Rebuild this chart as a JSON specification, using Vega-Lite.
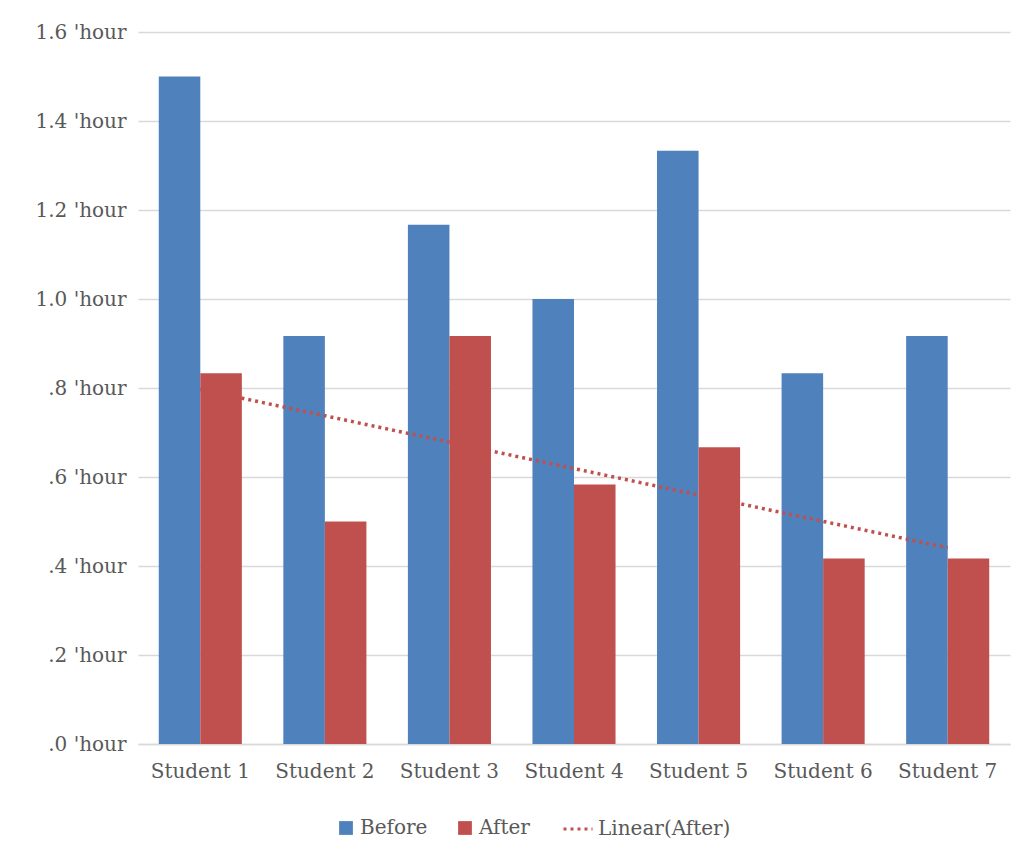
{
  "$schema": "https://vega.github.io/schema/vega-lite/v6.json",
  "width": 872,
  "height": 712,
  "autosize": {"type": "none"},
  "padding": {"left": 138, "top": 32, "right": 14, "bottom": 119},
  "background": "white",
  "config": {
    "view": {"stroke": null},
    "font": "DejaVu Serif",
    "axis": {"labelFont": "DejaVu Serif", "labelColor": "#595959", "labelFontSize": 20},
    "legend": {"labelFont": "DejaVu Serif", "labelColor": "#595959", "labelFontSize": 20}
  },
  "datasets": {
    "bars": [
      {"student": "Student 1", "series": "Before", "value": 1.5},
      {"student": "Student 1", "series": "After", "value": 0.833},
      {"student": "Student 2", "series": "Before", "value": 0.917},
      {"student": "Student 2", "series": "After", "value": 0.5},
      {"student": "Student 3", "series": "Before", "value": 1.167},
      {"student": "Student 3", "series": "After", "value": 0.917},
      {"student": "Student 4", "series": "Before", "value": 1.0},
      {"student": "Student 4", "series": "After", "value": 0.583},
      {"student": "Student 5", "series": "Before", "value": 1.333},
      {"student": "Student 5", "series": "After", "value": 0.667},
      {"student": "Student 6", "series": "Before", "value": 0.833},
      {"student": "Student 6", "series": "After", "value": 0.417},
      {"student": "Student 7", "series": "Before", "value": 0.917},
      {"student": "Student 7", "series": "After", "value": 0.417}
    ],
    "trend": [
      {"student": "Student 1", "value": 0.797},
      {"student": "Student 7", "value": 0.441}
    ]
  },
  "encoding": {
    "x": {
      "field": "student", "type": "nominal",
      "scale": {"paddingInner": 0.333, "paddingOuter": 0.1667},
      "axis": {"title": null, "labelAngle": 0, "ticks": false, "domainColor": "#D9D9D9", "domainWidth": 1.5, "labelPadding": 17, "grid": false}
    },
    "y": {
      "field": "value", "type": "quantitative",
      "scale": {"domain": [0, 1.6], "nice": false},
      "axis": {
        "title": null, "values": [0, 0.2, 0.4, 0.6, 0.8, 1.0, 1.2, 1.4, 1.6],
        "labelExpr": "replace(format(datum.value, '.1f'), '0.', '.') + \" 'hour\"",
        "labelOverlap": false,
        "ticks": false, "domain": false, "labelPadding": 12,
        "gridColor": "#D9D9D9", "gridWidth": 1.5
      }
    }
  },
  "layer": [
    {
      "data": {"name": "bars"},
      "mark": {"type": "bar"},
      "encoding": {
        "xOffset": {"field": "series", "type": "nominal", "scale": {"domain": ["Before", "After"], "paddingInner": 0, "paddingOuter": 0}},
        "color": {
          "field": "series", "type": "nominal",
          "scale": {"domain": ["Before", "After"], "range": ["#4F81BD", "#C0504D"]},
          "legend": {
            "title": null, "orient": "none", "direction": "horizontal",
            "legendX": 198, "legendY": 786,
            "symbolType": "square", "symbolSize": 190, "symbolStrokeWidth": 0,
            "columnPadding": 27, "labelOffset": 4
          }
        }
      }
    },
    {
      "data": {"name": "trend"},
      "mark": {"type": "line", "color": "#C0504D", "strokeWidth": 3.5, "strokeDash": [3.2, 4.6]},
      "encoding": {
        "strokeDash": {
          "datum": "Linear(After)",
          "scale": {"range": [[3, 4]]},
          "legend": {
            "title": null, "orient": "none", "direction": "horizontal",
            "legendX": 424, "legendY": 781,
            "symbolType": "stroke", "symbolStrokeColor": "#C0504D", "symbolStrokeWidth": 3,
            "symbolSize": 841, "labelOffset": 4
          }
        }
      }
    }
  ]
}
